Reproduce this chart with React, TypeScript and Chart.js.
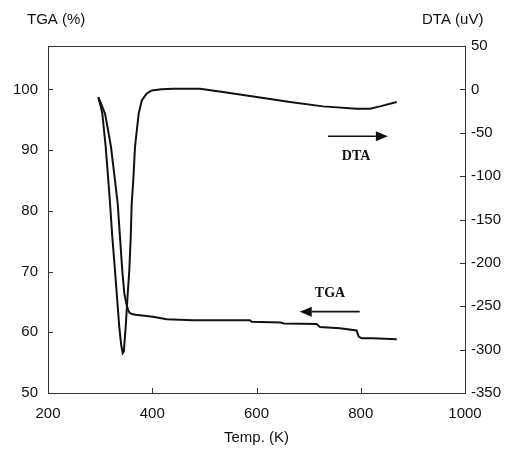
import React, { useEffect, useRef } from "react";
import { Chart, registerables } from "chart.js";

Chart.register(...registerables);

// ---- data ----
const tgaTemp = [296.5, 302, 309.4, 315, 320.9, 328.5, 333.7, 338.1, 342.5, 346.4, 350, 353.5, 356.5, 361, 368, 376.5, 401.4, 427.7, 478, 587.5, 590.8, 646.5, 652, 715.5, 721.8, 760, 792, 796, 802, 823.5, 869];
const tgaValue = [98.7, 97.6, 96.0, 93.4, 90.5, 85.0, 81.2, 75.7, 70.2, 66.4, 64.8, 63.7, 63.2, 63.0, 62.9, 62.8, 62.55, 62.15, 62.0, 62.0, 61.75, 61.6, 61.45, 61.35, 60.85, 60.65, 60.3, 59.3, 59.0, 59.0, 58.85];

const dtaTemp = [296.5, 300, 304.2, 310.7, 315.7, 319, 323.4, 328.5, 331.8, 336.8, 340.5, 343.3, 345.5, 349, 353, 356, 358.7, 360.6, 363.6, 366.9, 374, 380, 389, 399, 418, 440, 491.6, 535.7, 600.4, 664.3, 727.6, 792.2, 817.8, 837, 869];
const dtaValue = [-9.2, -17, -27.6, -66.4, -104.8, -131.3, -170.5, -208.5, -235, -274, -295, -304, -302, -274, -235, -208.5, -170.5, -131.3, -104.8, -66.4, -27.6, -12.7, -5, -1.2, 0.2, 0.8, 0.8, -3.1, -8.9, -14.6, -19.6, -22.2, -22.2, -19.6, -14.6];

const tempTicks = [200, 400, 600, 800, 1000];
const tgaTicks = [50, 60, 70, 80, 90, 100];
const dtaTicks = [-350, -300, -250, -200, -150, -100, -50, 0, 50];

const tgaMin = 50;
const tgaMax = 50 + (50 * 400) / 350;
const dtaMin = -350;
const dtaMax = 50;

// annotations (data coordinates)
const dtaArrow = { from: 737, to: 852, y: -54 };
const dtaLabel = { text: "DTA", x: 791, y: -77 };
const tgaArrow = { from: 798, to: 683, y: 63.4 };
const tgaLabel = { text: "TGA", x: 741, y: 66.4 };

const FONT = "'Liberation Sans', Arial, sans-serif";

function arrow(ctx: CanvasRenderingContext2D, x1: number, x2: number, y: number) {
  const dir = x2 > x1 ? 1 : -1;
  const headLen = 12;
  const half = 5;
  ctx.beginPath();
  ctx.moveTo(x1, y);
  ctx.lineTo(x2 - dir * headLen, y);
  ctx.lineWidth = 1.6;
  ctx.stroke();
  ctx.beginPath();
  ctx.moveTo(x2, y);
  ctx.lineTo(x2 - dir * headLen, y - half);
  ctx.lineTo(x2 - dir * headLen, y + half);
  ctx.closePath();
  ctx.fill();
}

const decor = {
  id: "decor",
  afterDraw(chart: any) {
    const { ctx, chartArea: a, scales } = chart;
    const xs = scales.x, yl = scales.y, yr = scales.y1;
    ctx.save();
    ctx.strokeStyle = "#333";
    ctx.lineWidth = 1;
    ctx.strokeRect(Math.round(a.left) + 0.5, Math.round(a.top) + 0.5, Math.round(a.right - a.left), Math.round(a.bottom - a.top));
    const tl = 5;
    ctx.beginPath();
    tempTicks.slice(1, -1).forEach((t) => {
      const px = Math.round(xs.getPixelForValue(t)) + 0.5;
      ctx.moveTo(px, a.bottom);
      ctx.lineTo(px, a.bottom - tl);
    });
    tgaTicks.slice(1).forEach((t) => {
      const py = Math.round(yl.getPixelForValue(t)) + 0.5;
      ctx.moveTo(a.left, py);
      ctx.lineTo(a.left + tl, py);
    });
    dtaTicks.slice(1, -1).forEach((t) => {
      const py = Math.round(yr.getPixelForValue(t)) + 0.5;
      ctx.moveTo(a.right, py);
      ctx.lineTo(a.right - tl, py);
    });
    ctx.stroke();

    // axis titles
    ctx.fillStyle = "#111";
    ctx.font = `15px ${FONT}`;
    ctx.textBaseline = "middle";
    ctx.textAlign = "left";
    ctx.fillText("TGA (%)", 27, 20);
    ctx.fillText("DTA (uV)", 422, 20);

    // annotations
    ctx.strokeStyle = "#111";
    ctx.fillStyle = "#111";
    arrow(ctx, xs.getPixelForValue(dtaArrow.from), xs.getPixelForValue(dtaArrow.to), yr.getPixelForValue(dtaArrow.y));
    arrow(ctx, xs.getPixelForValue(tgaArrow.from), xs.getPixelForValue(tgaArrow.to), yl.getPixelForValue(tgaArrow.y));
    ctx.font = "bold 14px 'Liberation Serif', 'Times New Roman', serif";
    ctx.textAlign = "center";
    ctx.fillText(dtaLabel.text, xs.getPixelForValue(dtaLabel.x), yr.getPixelForValue(dtaLabel.y));
    ctx.fillText(tgaLabel.text, xs.getPixelForValue(tgaLabel.x), yl.getPixelForValue(tgaLabel.y));
    ctx.restore();
  },
};

export default function App() {
  const ref = useRef<HTMLCanvasElement | null>(null);
  useEffect(() => {
    if (!ref.current) return;
    const tickFont = { family: FONT, size: 15 };
    const plain = (v: any) => String(v);
    const chart = new Chart(ref.current, {
      type: "line",
      data: {
        datasets: [
          {
            label: "TGA",
            data: tgaTemp.map((t, i) => ({ x: t, y: tgaValue[i] })),
            yAxisID: "y",
            borderColor: "#111",
            borderWidth: 2,
            pointRadius: 0,
            tension: 0,
            fill: false,
          },
          {
            label: "DTA",
            data: dtaTemp.map((t, i) => ({ x: t, y: dtaValue[i] })),
            yAxisID: "y1",
            borderColor: "#111",
            borderWidth: 2,
            pointRadius: 0,
            tension: 0,
            fill: false,
          },
        ],
      },
      options: {
        responsive: false,
        animation: false,
        devicePixelRatio: 1,
        layout: { padding: { top: 46, left: 0, right: 0, bottom: 0 } },
        plugins: { legend: { display: false }, tooltip: { enabled: false } },
        scales: {
          x: {
            type: "linear",
            position: "bottom",
            min: 200,
            max: 1000,
            afterBuildTicks: (s: any) => { s.ticks = tempTicks.map((v) => ({ value: v })); },
            afterFit: (s: any) => { s.height = 59; },
            ticks: { font: tickFont, color: "#111", padding: 12, maxRotation: 0, autoSkip: false, callback: plain },
            grid: { display: false, drawTicks: false },
            border: { display: false },
            title: { display: true, text: "Temp. (K)", font: tickFont, color: "#111", padding: { top: 0, bottom: 5 } },
          },
          y: {
            type: "linear",
            position: "left",
            min: tgaMin,
            max: tgaMax,
            afterBuildTicks: (s: any) => { s.ticks = tgaTicks.map((v) => ({ value: v })); },
            afterFit: (s: any) => { s.width = 48; },
            ticks: { font: tickFont, color: "#111", padding: 10, autoSkip: false, callback: plain },
            grid: { display: false, drawTicks: false },
            border: { display: false },
          },
          y1: {
            type: "linear",
            position: "right",
            min: dtaMin,
            max: dtaMax,
            afterBuildTicks: (s: any) => { s.ticks = dtaTicks.map((v) => ({ value: v })); },
            afterFit: (s: any) => { s.width = 51; },
            ticks: { font: tickFont, color: "#111", padding: 6, autoSkip: false, callback: plain },
            grid: { display: false, drawTicks: false },
            border: { display: false },
          },
        },
      },
      plugins: [decor],
    });
    return () => chart.destroy();
  }, []);
  return (
    <div style={{ position: "fixed", left: 0, top: 0, width: 516, height: 452, background: "#fff" }}>
      <canvas ref={ref} width={516} height={452} style={{ width: 516, height: 452, display: "block" }} />
    </div>
  );
}
